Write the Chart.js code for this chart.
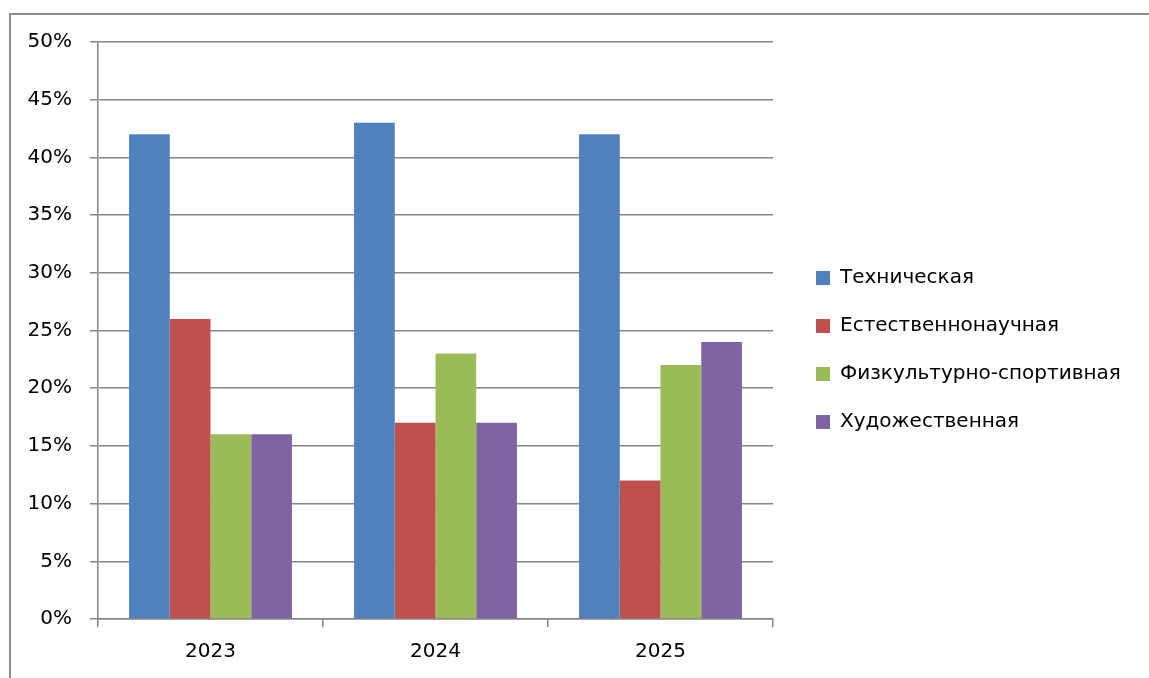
<!DOCTYPE html>
<html lang="ru">
<head>
<meta charset="utf-8">
<title>Направленности по годам</title>
<script src="https://cdn.jsdelivr.net/npm/chart.js@4/dist/chart.umd.min.js"></script>
<style>
  html, body { margin: 0; padding: 0; background: #fff; }
  #wrap { position: relative; width: 1149px; height: 678px; overflow: hidden; }
  #frame {
    position: absolute; left: 9px; top: 13px; width: 1200px; height: 700px;
    border-left: 2px solid #8c8c8c; border-top: 2px solid #8c8c8c;
  }
  #chart { position: absolute; left: 0; top: 0; }
</style>
</head>
<body>
<div id="wrap">
  <div id="frame"></div>
  <canvas id="chart" width="1149" height="678"></canvas>
</div>
<script>
// values, in percent
const years = ['2023', '2024', '2025'];
const seriesNames = ['Техническая', 'Естественнонаучная', 'Физкультурно-спортивная', 'Художественная'];
const technical = [42, 43, 42];
const science = [26, 17, 12];
const sport = [16, 23, 22];
const art = [16, 17, 24];
const yTicks = [0, 5, 10, 15, 20, 25, 30, 35, 40, 45, 50];

const colors = ['#4F81BD', '#C0504D', '#9BBB59', '#8064A2'];
const allValues = [technical, science, sport, art];
const gridColor = '#868686';
const font = { family: '"DejaVu Sans", sans-serif', size: 20 };

// moves the legend to where the reference has it (and gives it room up to the right edge)
const legendShift = {
    id: 'legendShift',
    afterLayout(chart) {
        const lg = chart.legend;
        if (!lg) return;
        lg.left = 788;
        lg.right = chart.width;
        lg.width = lg.right - lg.left;
        const h = lg.height;
        lg.top = 240;
        lg.bottom = lg.top + h;
    }
};

const ctx = document.getElementById('chart').getContext('2d');
new Chart(ctx, {
    type: 'bar',
    data: {
        labels: years,
        datasets: seriesNames.map((name, i) => ({
            label: name,
            data: allValues[i],
            backgroundColor: colors[i],
            borderWidth: 0,
            categoryPercentage: 0.724,
            barPercentage: 1
        }))
    },
    options: {
        responsive: false,
        devicePixelRatio: 1,
        animation: false,
        layout: { padding: { top: 42, left: 0, bottom: 0, right: 76 } },
        plugins: {
            tooltip: { enabled: false },
            legend: {
                position: 'right',
                align: 'start',
                maxWidth: 300,
                labels: {
                    color: '#000',
                    font: font,
                    boxWidth: 14,
                    boxHeight: 14,
                    padding: 28
                }
            }
        },
        scales: {
            x: {
                offset: true,
                grid: { offset: true, drawOnChartArea: false, drawTicks: true, tickLength: 8, color: gridColor, lineWidth: 1.5 },
                border: { color: gridColor, width: 1.5 },
                ticks: { color: '#000', font: font, padding: 13, maxRotation: 0 },
                afterFit(scale) { scale.height = 59; }
            },
            y: {
                min: 0,
                max: 50,
                afterBuildTicks(scale) { scale.ticks = yTicks.map(v => ({ value: v })); },
                grid: { color: gridColor, lineWidth: 1.5, tickLength: 8 },
                border: { color: gridColor, width: 1.5 },
                ticks: { color: '#000', font: font, padding: 18, callback: v => v + '%' },
                afterFit(scale) { scale.width = 98; }
            }
        }
    },
    plugins: [legendShift]
});
</script>
</body>
</html>
